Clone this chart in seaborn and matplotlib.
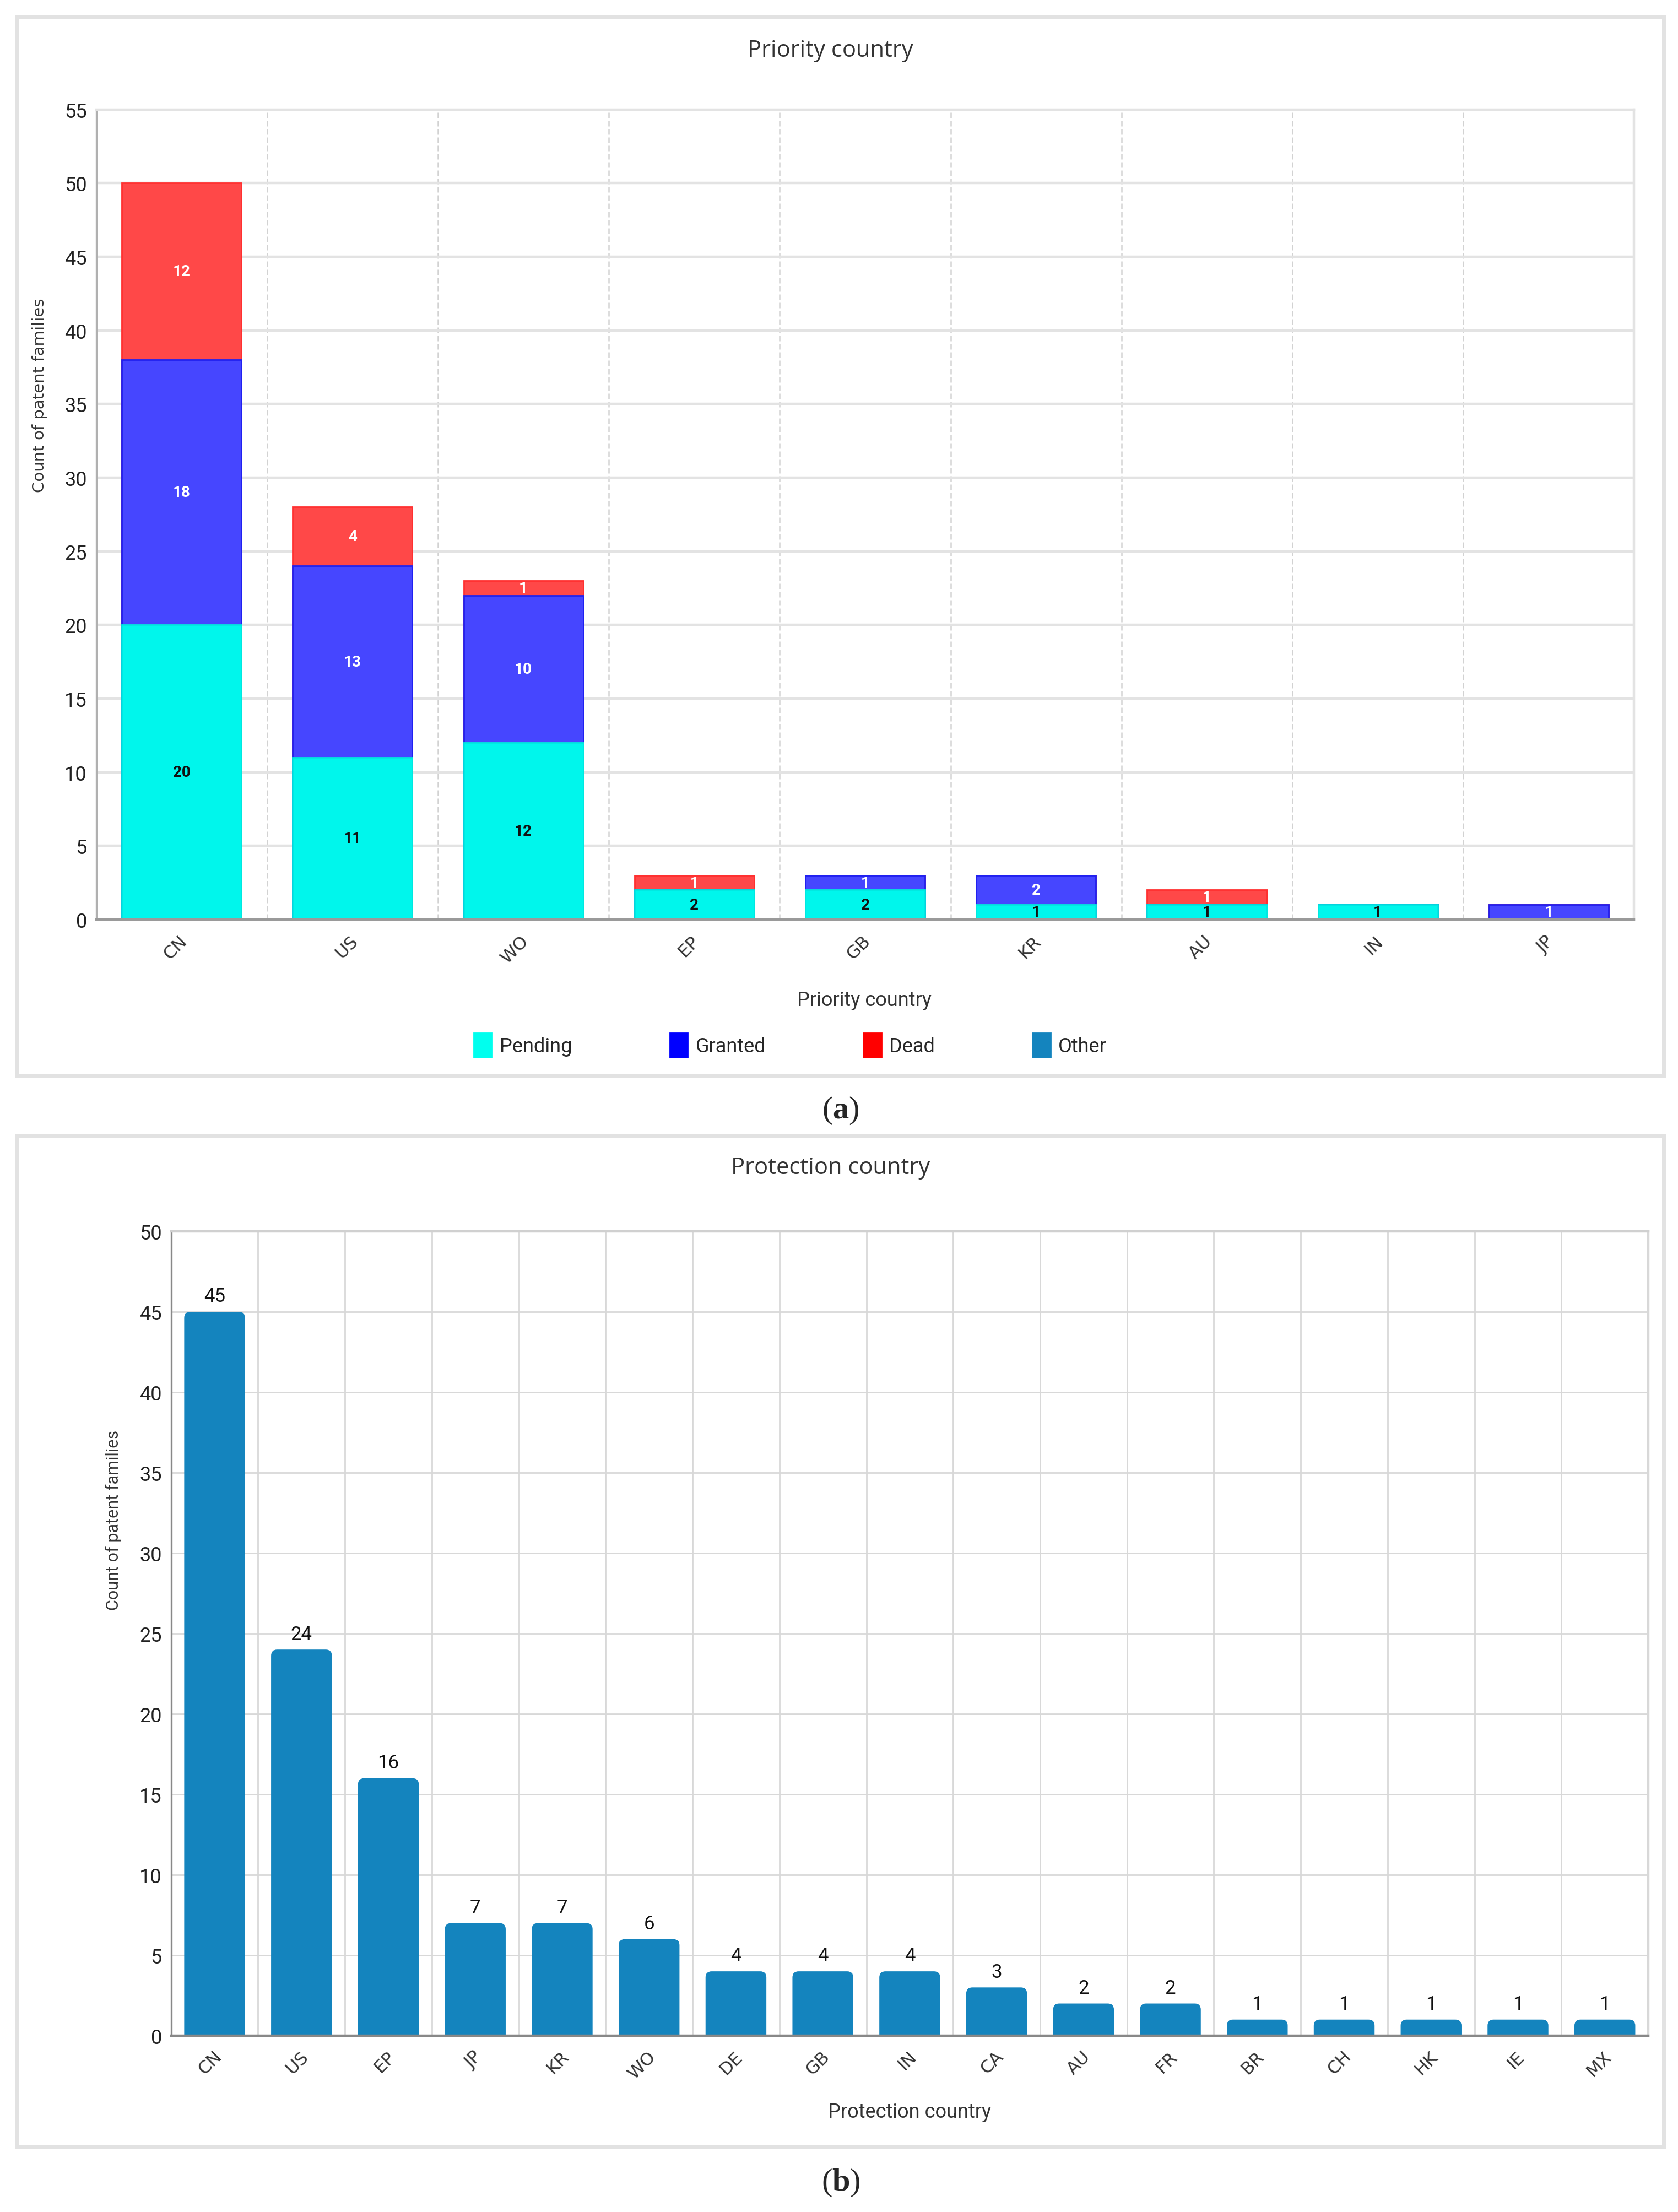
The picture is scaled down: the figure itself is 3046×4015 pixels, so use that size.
import matplotlib
matplotlib.use("Agg")
import matplotlib.pyplot as plt
import matplotlib.transforms as mtransforms
from matplotlib.patches import Rectangle, FancyBboxPatch, Patch
from matplotlib.ticker import MultipleLocator
import seaborn as sns
import numpy as np

# Donnees
priority_countries = ["CN", "US", "WO", "EP", "GB", "KR", "AU", "IN", "JP"]
pending = [20, 11, 12, 2, 2, 1, 1, 1, 0]
granted = [18, 13, 10, 0, 1, 2, 0, 0, 1]
dead = [12, 4, 1, 1, 0, 0, 1, 0, 0]

protection_countries = ["CN", "US", "EP", "JP", "KR", "WO", "DE", "GB", "IN",
                        "CA", "AU", "FR", "BR", "CH", "HK", "IE", "MX"]
protection_counts = [45, 24, 16, 7, 7, 6, 4, 4, 4, 3, 2, 2, 1, 1, 1, 1, 1]

status_names = ["Pending", "Granted", "Dead", "Other"]
bar_colors = ["#00f6ec", "#4646ff", "#ff4848"]
edge_colors = ["#00e8e0", "#2020f0", "#ff3030"]
legend_colors = ["#00ffee", "#0000ff", "#ff0000", "#1484be"]
protection_color = "#1484be"

sns.set_theme(style="white")
narrow = ["Liberation Sans Narrow", "Roboto", "DejaVu Sans"]
plt.rcParams["font.family"] = ["Open Sans", "DejaVu Sans"]
plt.rcParams["mathtext.fontset"] = "custom"
plt.rcParams["mathtext.bf"] = "Liberation Serif:bold"
plt.rcParams["mathtext.rm"] = "Liberation Serif"

fig = plt.figure(figsize=(15.23, 20.08), dpi=200)

# Cadres des deux panneaux
for (x0, y0, x1, y1) in [(0.0101, 0.5134, 0.9916, 0.9923), (0.0101, 0.0293, 0.9916, 0.4866)]:
    fig.patches.append(Rectangle((x0, y0), x1 - x0, y1 - y0, transform=fig.transFigure,
                                 fill=False, edgecolor="#e2e2e2", linewidth=2.5))


def style_axes(ax, n, ymax, ystep, dashed):
    ax.set_xlim(-0.5, n - 0.5)
    ax.set_ylim(0, ymax)
    ax.yaxis.set_major_locator(MultipleLocator(ystep))
    ax.set_xticks(np.arange(n) - 0.5, minor=True)
    ax.set_axisbelow(True)
    ax.grid(axis="y", which="major", color="#e3e3e3", linewidth=1.6)
    if dashed:
        ax.grid(axis="x", which="minor", color="#d2d2d2", linewidth=0.9, linestyle=(0, (4, 2)))
    else:
        ax.grid(axis="x", which="minor", color="#d8d8d8", linewidth=1.0)
    ax.grid(axis="x", which="major", visible=False)
    ax.tick_params(axis="x", which="both", length=0, labelbottom=False)
    ax.tick_params(axis="y", length=0, labelsize=13, pad=6)
    for t in ax.get_yticklabels():
        t.set_family(narrow)
        t.set_color("#222222")
    for s in ["top", "right"]:
        ax.spines[s].set_color("#e3e3e3")
        ax.spines[s].set_linewidth(1.6)
    ax.spines["left"].set_color("#b0b0b0")
    ax.spines["bottom"].set_color("#9a9a9a")
    ax.spines["left"].set_linewidth(1.2)
    ax.spines["bottom"].set_linewidth(1.6)
    ax.set_xlabel("")
    ax.set_ylabel("")


def rotated_labels(ax, labels, offset):
    # etiquettes des categories inclinees a 45 degres
    trans = mtransforms.blended_transform_factory(ax.transData, ax.transAxes)
    for i, lab in enumerate(labels):
        ax.text(i - 0.02, -offset, lab, transform=trans, rotation=45, ha="right",
                va="top", rotation_mode="anchor", fontsize=11.5, family="DejaVu Sans",
                color="#333333", clip_on=False)


# ---------- (a) Priority country ----------
ax1 = fig.add_axes([0.0573, 0.5842, 0.9166, 0.3661])
tot_all = np.array(pending) + np.array(granted) + np.array(dead)
tot_pg = np.array(pending) + np.array(granted)
for vals, fc, ec in [(tot_all, bar_colors[2], edge_colors[2]),
                     (tot_pg, bar_colors[1], edge_colors[1]),
                     (pending, bar_colors[0], edge_colors[0])]:
    sns.barplot(x=priority_countries, y=vals, color=fc, width=0.7, saturation=1,
                edgecolor=ec, linewidth=1.0, ax=ax1)
style_axes(ax1, len(priority_countries), 55, 5, dashed=True)
rotated_labels(ax1, priority_countries, 0.016)

# etiquettes des segments
for i in range(len(priority_countries)):
    bottom = 0
    for vals, col in [(pending, "#111111"), (granted, "white"), (dead, "white")]:
        v = vals[i]
        if v > 0:
            ax1.text(i, bottom + v / 2, str(v), ha="center", va="center",
                     fontsize=10, color=col, family=narrow, fontweight="semibold")
        bottom += v

fig.text(0.495, 0.977, "Priority country", ha="center", va="center", fontsize=15,
         color="#333333")
fig.text(0.0236, 0.8214, "Count of patent families", rotation=90, ha="center",
         va="center", fontsize=10.5, family="DejaVu Sans", color="#333333")
fig.text(0.515, 0.5478, "Priority country", ha="center", va="center", fontsize=13,
         family=narrow, color="#333333")

handles = [Patch(facecolor=c, edgecolor=c) for c in legend_colors]
fig.legend(handles, status_names, loc="center", bbox_to_anchor=(0.471, 0.5274),
           ncol=4, frameon=False, handlelength=0.9, handleheight=1.5,
           handletextpad=0.4, columnspacing=4.9, prop={"family": narrow, "size": 13})

fig.text(0.501, 0.498, r"($\mathbf{a}$)", ha="center", va="center", fontsize=21,
         family="Liberation Serif")

# ---------- (b) Protection country ----------
ax2 = fig.add_axes([0.1020, 0.0797, 0.8803, 0.3635])
sns.barplot(x=protection_countries, y=protection_counts, color=protection_color,
            width=0.7, saturation=1, ax=ax2)
style_axes(ax2, len(protection_countries), 50, 5, dashed=False)
ax2.grid(axis="y", which="major", color="#d8d8d8", linewidth=1.0)
ax2.spines["top"].set_color("#d0d0d0")
ax2.spines["right"].set_color("#d8d8d8")
ax2.spines["left"].set_color("#888888")
ax2.spines["bottom"].set_color("#888888")
rotated_labels(ax2, protection_countries, 0.015)

# barres aux coins arrondis
p0 = ax2.transData.transform((0, 0))
p1 = ax2.transData.transform((1, 1))
aspect = (p1[0] - p0[0]) / (p1[1] - p0[1])
r = 0.07
for bar in list(ax2.patches):
    x, w, h = bar.get_x(), bar.get_width(), bar.get_height()
    bar.set_visible(False)
    ax2.add_patch(FancyBboxPatch((x, -r * aspect), w, h + r * aspect,
                                 boxstyle=f"round,pad=0,rounding_size={r}",
                                 mutation_aspect=aspect, facecolor=protection_color,
                                 edgecolor="none"))

for i, v in enumerate(protection_counts):
    ax2.text(i, v + 0.4, str(v), ha="center", va="bottom", fontsize=12.5,
             family=narrow, color="#111111")

fig.text(0.495, 0.472, "Protection country", ha="center", va="center", fontsize=15,
         color="#333333")
fig.text(0.0675, 0.313, "Count of patent families", rotation=90, ha="center",
         va="center", fontsize=11, family=["Roboto", "DejaVu Sans"], color="#333333")
fig.text(0.542, 0.0453, "Protection country", ha="center", va="center", fontsize=13,
         family=narrow, color="#333333")

fig.text(0.501, 0.0134, r"($\mathbf{b}$)", ha="center", va="center", fontsize=21,
         family="Liberation Serif")

fig.savefig("out.png", dpi=200, facecolor="white")
